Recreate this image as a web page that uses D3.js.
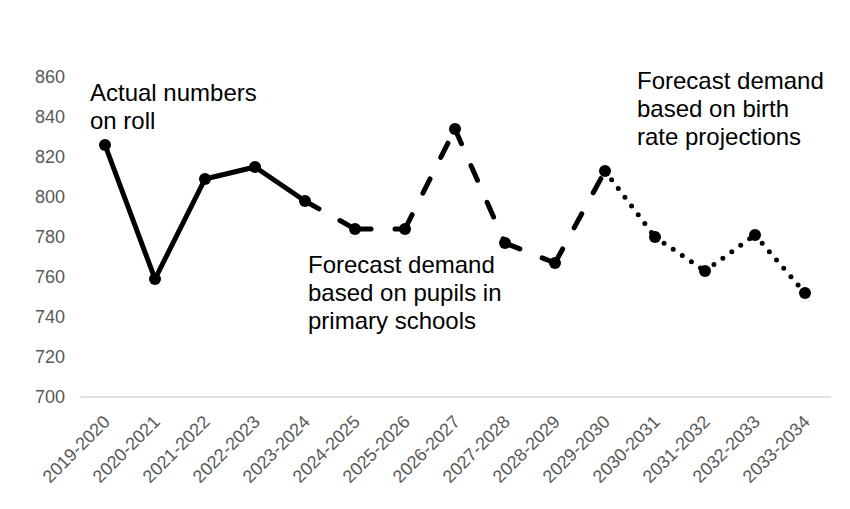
<!DOCTYPE html>
<html>
<head>
<meta charset="utf-8">
<script src="https://cdn.jsdelivr.net/npm/d3@7"></script>
<style>
  html, body { margin: 0; padding: 0; background: #fff; }
  svg { display: block; font-family: "Liberation Sans", Arial, sans-serif; }
</style>
</head>
<body>
<svg id="chart" width="850" height="509"></svg>
<script>
const categories = ["2019-2020","2020-2021","2021-2022","2022-2023","2023-2024","2024-2025","2025-2026","2026-2027","2027-2028","2028-2029","2029-2030","2030-2031","2031-2032","2032-2033","2033-2034"];
const values = [826, 759, 809, 815, 798, 784, 784, 834, 777, 767, 813, 780, 763, 781, 752];
// line style of the segment leading from point i to point i+1
const segmentStyle = ["solid","solid","solid","solid","dash","dash","dash","dash","dash","dash","dot","dot","dot","dot"];
const yTicks = [700, 720, 740, 760, 780, 800, 820, 840, 860];
const annotations = [
  { lines: ["Actual numbers", "on roll"], cat: "2019-2020", dx: -15, value: 848 },
  { lines: ["Forecast demand", "based on pupils in", "primary schools"], cat: "2024-2025", dx: -47, value: 762 },
  { lines: ["Forecast demand", "based on birth", "rate projections"], cat: "2030-2031", dx: -18, value: 854 }
];

const svg = d3.select("#chart");
const margin = { left: 80, right: 20, top: 77, bottom: 112 };
const W = 850, H = 509;

const x = d3.scaleBand().domain(categories).range([margin.left, W - margin.right]);
const y = d3.scaleLinear().domain([700, 860]).range([H - margin.bottom, margin.top]);
const cx = c => x(c) + x.bandwidth() / 2;

// y tick labels
svg.append("g").selectAll("text").data(yTicks).join("text")
  .attr("x", 65).attr("y", d => y(d))
  .attr("dy", "0.35em")
  .attr("text-anchor", "end")
  .attr("font-size", 18)
  .attr("fill", "#595959")
  .text(d => d);

// x axis line
svg.append("line")
  .attr("x1", margin.left).attr("x2", W - margin.right + 1)
  .attr("y1", y(700)).attr("y2", y(700))
  .attr("stroke", "#d9d9d9").attr("stroke-width", 1.5);

// x tick labels
svg.append("g").selectAll("text").data(categories).join("text")
  .attr("transform", d => `translate(${cx(d) + 6},${y(700) + 26}) rotate(-45)`)
  .attr("text-anchor", "end")
  .attr("font-size", 18)
  .attr("fill", "#595959")
  .text(d => d);

// line segments
const dashes = { solid: null, dash: "16,24", dot: "0,11" };
const segs = d3.range(values.length - 1).map(i => ({ i, style: segmentStyle[i] }));
svg.append("g").selectAll("line").data(segs).join("line")
  .attr("x1", d => cx(categories[d.i])).attr("y1", d => y(values[d.i]))
  .attr("x2", d => cx(categories[d.i + 1])).attr("y2", d => y(values[d.i + 1]))
  .attr("stroke", "#000")
  .attr("stroke-width", 5)
  .attr("stroke-linecap", "round")
  .attr("stroke-dasharray", d => dashes[d.style]);

// markers
svg.append("g").selectAll("circle").data(values).join("circle")
  .attr("cx", (d, i) => cx(categories[i]))
  .attr("cy", d => y(d))
  .attr("r", 6)
  .attr("fill", "#000");

// annotations
const ann = svg.append("g");
annotations.forEach(a => {
  const t = ann.append("text")
    .attr("x", cx(a.cat) + a.dx)
    .attr("y", y(a.value))
    .attr("font-size", 24)
    .attr("fill", "#000");
  a.lines.forEach((l, k) => {
    t.append("tspan").attr("x", cx(a.cat) + a.dx).attr("dy", k === 0 ? 0 : 28).text(l);
  });
});
</script>
</body>
</html>
